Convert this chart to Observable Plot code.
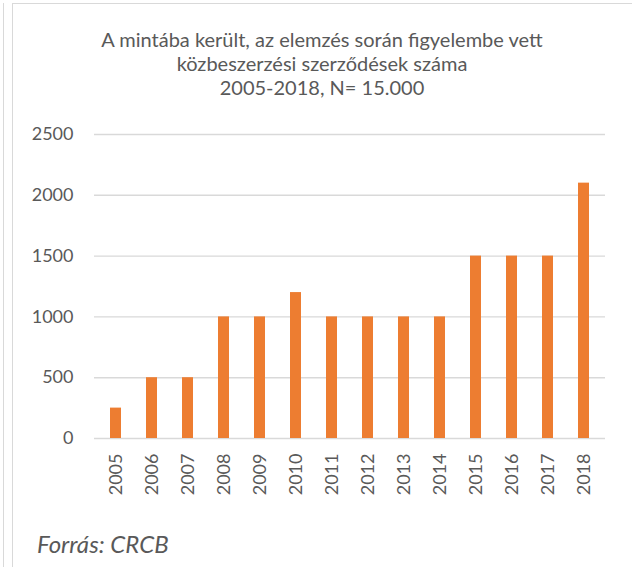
<!DOCTYPE html>
<html>
<head>
<meta charset="utf-8">
<script src="https://cdn.jsdelivr.net/npm/d3@7"></script>
<script src="https://cdn.jsdelivr.net/npm/@observablehq/plot@0.6"></script>
<style>
  html, body { margin: 0; padding: 0; background: #fff; }
  #wrap { position: relative; width: 632px; height: 567px; overflow: hidden; font-family: Lato, "Open Sans", sans-serif; color: #595959; }
  .vline1 { position: absolute; left: 3px; top: 3px; width: 0; height: 570px; border-left: 1.5px solid #d9d9d9; }
  .box { position: absolute; left: 12px; top: 3px; width: 640px; height: 600px; border-left: 1.5px solid #d9d9d9; border-top: 1.5px solid #d9d9d9; }
  #title { position: absolute; left: 12px; top: 27px; width: 620px; text-align: center; font-size: 20px; line-height: 24px; }
  #chart { position: absolute; left: 0; top: 110px; }
  #caption { position: absolute; left: 37px; top: 529px; font-size: 24px; font-style: italic; }
</style>
</head>
<body>
<div id="wrap">
  <div class="vline1"></div>
  <div class="box"></div>
  <div id="title">A mintába került, az elemzés során figyelembe vett<br>közbeszerzési szerződések száma<br>2005-2018, N= 15.000</div>
  <div id="chart"></div>
  <div id="caption">Forrás: CRCB</div>
</div>
<script>
const years = ["2005","2006","2007","2008","2009","2010","2011","2012","2013","2014","2015","2016","2017","2018"];
const counts = [250, 500, 500, 1000, 1000, 1200, 1000, 1000, 1000, 1000, 1500, 1500, 1500, 2100];
const yTicks = [0, 500, 1000, 1500, 2000, 2500];

const data = years.map((y, i) => ({year: y, value: counts[i]}));

const chart = Plot.plot({
  width: 632,
  height: 410,
  marginLeft: 94,
  marginRight: 27,
  marginTop: 24,
  marginBottom: 82,
  style: { fontFamily: "Lato, 'Open Sans', sans-serif", fontSize: "18px", color: "#595959", background: "transparent" },
  x: { domain: years, paddingInner: 0.7, paddingOuter: 0.35, label: null, tickSize: 0, tickPadding: 15, tickRotate: -90 },
  y: { domain: [0, 2500], ticks: yTicks, label: null, tickSize: 0, tickPadding: 21, tickFormat: d => String(d) },
  marks: [
    Plot.gridY(yTicks, { stroke: "#d9d9d9", strokeOpacity: 1, strokeWidth: 1.4 }),
    Plot.barY(data, { x: "year", y: "value", fill: "#ED7D31" })
  ]
});
document.getElementById("chart").appendChild(chart);
</script>
</body>
</html>
